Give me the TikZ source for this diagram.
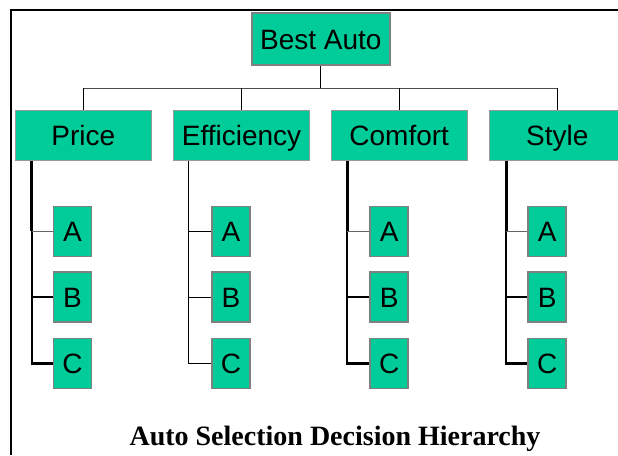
\documentclass[tikz,border=0pt]{standalone}
\usepackage{fontspec}
\setmainfont{Liberation Serif}
\newfontfamily\lblfont{Liberation Sans}
\definecolor{boxgreen}{HTML}{00CC99}
\definecolor{edgegray}{HTML}{808080}
\definecolor{lightedge}{HTML}{999999}
\begin{document}
\begin{tikzpicture}[x=1pt,y=-1pt,
  boxtext/.style={fill=boxgreen,inner sep=0pt,text height=20pt,text depth=0pt,font=\lblfont\fontsize{28}{30}\selectfont},
  rootbox/.style={boxtext,draw=edgegray,line width=2pt,minimum width=138pt,minimum height=52pt},
  critbox/.style={boxtext,draw=lightedge,line width=1pt,minimum width=136pt,minimum height=50pt},
  altbox/.style={boxtext,draw=edgegray,line width=1.6pt,minimum width=38pt,minimum height=50pt},
  thinlink/.style={line width=0.8pt,draw=black},
  barlink/.style={line width=1pt,draw=black!70},
  spinetop/.style={line width=2.7pt,draw=black},
  spinelow/.style={line width=2pt,draw=black},
  linkA/.style={line width=1pt,draw=black!60},
  linkBC/.style={line width=2.2pt,draw=black}]
\useasboundingbox (0,0) rectangle (618,455);
% frame
\draw[line width=2pt] (618,10.3) -- (11,10.3) -- (11,455);
% root
\node[rootbox] (best) at (320.8,39.3) {Best Auto};
% criteria
\node[critbox] (price) at (83.3,135.2) {Price};
\node[critbox] (eff) at (241.5,135.2) {Efficiency};
\node[critbox] (comf) at (399.2,135.2) {Comfort};
\node[critbox] (style) at (557.3,135.2) {Style};
% bar
\coordinate (bar) at (320.8,88.3);
\draw[thinlink] (best.south) -- (best.south |- bar);
\draw[barlink] (price.north |- bar) -- (style.north |- bar);
\foreach \c in {price,eff,comf,style}{
  \draw[thinlink] (\c.north |- bar) -- (\c.north);
}
% alternatives
\foreach \c/\ax in {price/72.5,eff/231,comf/389.2,style/547.2}{
  \node[altbox] (\c A) at (\ax,231.3) {A};
  \node[altbox] (\c B) at (\ax,297) {B};
  \node[altbox] (\c C) at (\ax,363.5) {C};
}
% spines
\coordinate (ps) at ([xshift=16.7pt]price.south west);
\coordinate (es) at ([xshift=15.7pt]eff.south west);
\coordinate (cs) at ([xshift=16.6pt]comf.south west);
\coordinate (ss) at ([xshift=17.4pt]style.south west);
\foreach \s/\c in {ps/price,cs/comf,ss/style}{
  \draw[spinetop] (\s) -- (\s |- \c A.west);
  \draw[spinelow] (\s |- \c A.west) -- (\s |- \c C.west);
  \draw[linkA] (\s |- \c A.west) -- (\c A.west);
  \draw[linkBC] ([xshift=-1pt]\s |- \c B.west) -- (\c B.west);
  \draw[linkBC] ([xshift=-1pt]\s |- \c C.west) -- (\c C.west);
}
\draw[thinlink] (es) -- (es |- effC.west);
\draw[thinlink] (es |- effA.west) -- (effA.west);
\draw[thinlink] (es |- effB.west) -- (effB.west);
\draw[thinlink] (es |- effC.west) -- (effC.west);
% title
\node[font=\bfseries\fontsize{28}{30}\selectfont,anchor=base,inner sep=0pt] (title) at (335,445) {Auto Selection Decision Hierarchy};
\end{tikzpicture}
\end{document}
